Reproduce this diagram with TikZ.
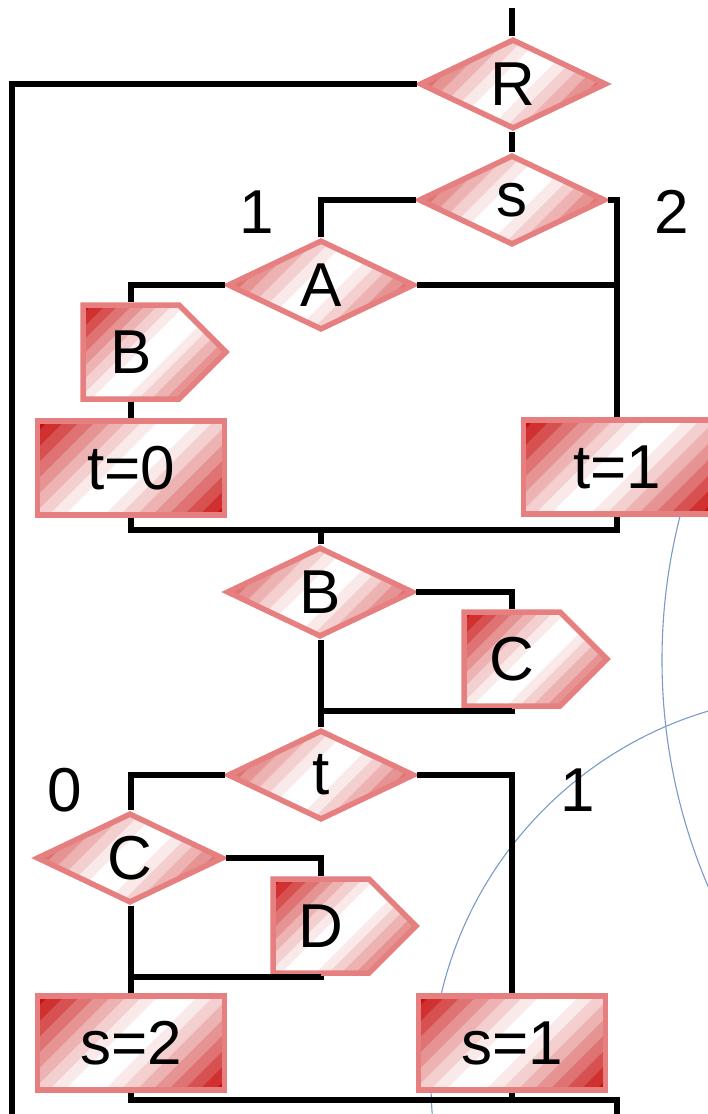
\documentclass[tikz,border=0pt]{standalone}
\usepackage{fontspec}
\setmainfont{Liberation Sans}
\usetikzlibrary{shapes.geometric,shapes.symbols}
\definecolor{boxred}{RGB}{200,14,14}
\definecolor{edgered}{RGB}{230,128,128}
\definecolor{arcblue}{RGB}{122,154,200}
\newcommand\bigfont{\fontsize{62}{70}\selectfont}
\pgfdeclareverticalshading{redband}{100bp}{%
 color(0bp)=(boxred); color(17bp)=(boxred);
 color(17.1bp)=(boxred!86); color(21bp)=(boxred!86);
 color(21.1bp)=(boxred!72); color(25bp)=(boxred!72);
 color(25.1bp)=(boxred!58); color(29bp)=(boxred!58);
 color(29.1bp)=(boxred!45); color(33bp)=(boxred!45);
 color(33.1bp)=(boxred!32); color(37bp)=(boxred!32);
 color(37.1bp)=(boxred!20); color(41bp)=(boxred!20);
 color(41.1bp)=(boxred!9); color(45bp)=(boxred!9);
 color(45.1bp)=(white); color(55bp)=(white);
 color(55.1bp)=(boxred!9); color(59bp)=(boxred!9);
 color(59.1bp)=(boxred!20); color(63bp)=(boxred!20);
 color(63.1bp)=(boxred!32); color(67bp)=(boxred!32);
 color(67.1bp)=(boxred!45); color(71bp)=(boxred!45);
 color(71.1bp)=(boxred!58); color(75bp)=(boxred!58);
 color(75.1bp)=(boxred!72); color(79bp)=(boxred!72);
 color(79.1bp)=(boxred!86); color(83bp)=(boxred!86);
 color(83.1bp)=(boxred); color(100bp)=(boxred)}
\tikzset{wire/.style={line width=5.5pt},
 filled/.style={draw=edgered,line width=5.5pt,shade,shading=redband,shading angle=45,inner sep=0pt},
 decide/.style={filled,diamond,minimum width=187pt,minimum height=90pt},
 stepbox/.style={filled,rectangle,minimum width=187pt,minimum height=94pt},
 callbox/.style={filled,signal,signal to=east,signal from=nowhere,signal pointer angle=90,minimum width=143pt,minimum height=94pt},
 arc/.style={draw=arcblue,line width=1.1pt},
 every picture/.style={line join=miter}}

\begin{document}
\begin{tikzpicture}[x=1pt,y=-1pt,font=\bigfont]
\useasboundingbox (0,0) rectangle (708,1114);
\clip (0,0) rectangle (708,1114);
\draw[arc] (1239,660) circle (577pt);
\draw[arc] (819,1083) circle (388pt);
\node[decide] (R) at (513,84) {R};
\node[decide] (s) at (512,200) {s};
\node[decide] (A) at (321,285) {A};
\node[callbox] (pB) at (131,352) {B};
\node[stepbox] (t0) at (131,468) {t=0};
\node[stepbox] (t1) at (617,467) {t=1};
\node[decide] (Bd) at (320,592) {B};
\node[callbox] (pC) at (512,659) {C};
\node[decide] (t) at (321,775) {t};
\node[decide] (Cd) at (130,858) {C};
\node[callbox] (pD) at (321,926) {D};
\node[stepbox] (s2) at (131,1043) {s=2};
\node[stepbox] (s1) at (512,1043) {s=1};
\node (one) at (257,212) {1};
\node (two) at (672,212) {2};
\node (zero) at (65,790) {0};
\node (oneb) at (578,790) {1};
\coordinate (in) at (512,8);
\coordinate (back) at (12,1120);
\coordinate (j1) at (321,530);
\coordinate (j2) at (321,711);
\coordinate (j3) at (131,977);
\coordinate (j4) at (617,1100);
\coordinate (out) at (617,1120);
\draw[wire] (in) -- (in |- R.north);
\draw[wire] (R.west) -| (back);
\draw[wire] (R.south -| in) -- (s.north);
\draw[wire] (s.west) -| (A.north);
\draw[wire] (s.east) -| (t1.north);
\draw[wire] (A.east) -- (A.east -| t1.north);
\draw[wire] (A.west) -| (pB.center |- pB.north);
\draw[wire] (pB.center |- pB.south) -- (t0.north);
\draw[wire] (t0.south) |- (j1) -| (t1.south);
\draw[wire] (j1) -- (j1 |- Bd.north);
\draw[wire] (Bd.east) -| (pC.center |- pC.north);
\draw[wire] (Bd.south -| j1) -- (t.north);
\draw[wire] (pC.center |- pC.south) |- (j2);
\draw[wire] (t.west) -| (j3 |- Cd.north);
\draw[wire] (t.east) -| (s1.north);
\draw[wire] (Cd.east) -| (pD.center |- pD.north);
\draw[wire] (Cd.south -| j3) -- (s2.north);
\draw[wire] (pD.center |- pD.south) |- (j3);
\draw[wire] (s2.south) |- (j4) -- (out);
\draw[wire] (s1.south) -- (s1.south |- j4);
\end{tikzpicture}
\end{document}
